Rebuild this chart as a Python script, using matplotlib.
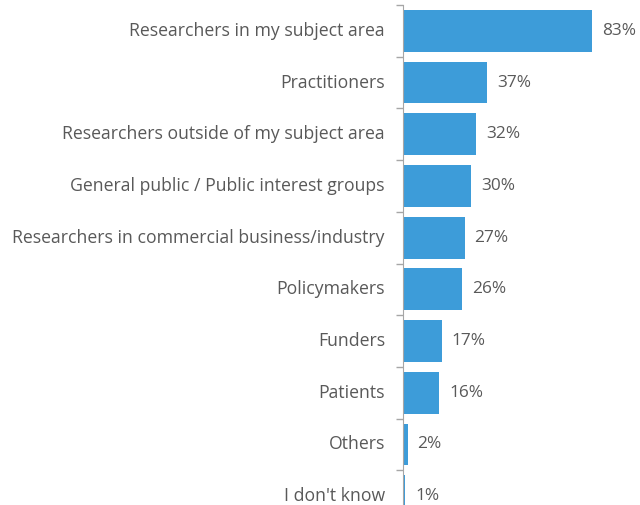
import numpy as np
import matplotlib.pyplot as plt
from matplotlib.transforms import ScaledTranslation

categories = ["Researchers in my subject area", "Practitioners",
              "Researchers outside of my subject area",
              "General public / Public interest groups",
              "Researchers in commercial business/industry",
              "Policymakers", "Funders", "Patients", "Others", "I don't know"]
values = [83, 37, 32, 30, 27, 26, 17, 16, 2, 1]

plt.rcParams['font.family'] = ['Open Sans', 'DejaVu Sans']

fig = plt.figure(figsize=(6.4, 5.05), dpi=100)
ax = fig.add_axes([403/640, 1 - 522/505, 228/640, 517/505])

y = np.arange(len(categories))
bars = ax.barh(y, values, height=0.81, color='#3d9cd9')
ax.set_ylim(len(categories) - 0.5, -0.5)
ax.set_xlim(0, 100)

for yi, v in zip(y, values):
    ax.text(v + 4.4, yi, f"{v}%", va='center', ha='left', fontsize=12.4, color='#595959')

ax.set_yticks(y)
ax.set_yticklabels(categories, fontsize=12.7, color='#595959')
ax.tick_params(axis='y', which='major', length=0, pad=13)
ax.set_yticks(np.arange(-0.5, len(categories), 1), minor=True)
ax.tick_params(axis='y', which='minor', length=5, color='#a6a6a6', width=1)
ax.set_xticks([])
for s in ['top', 'right', 'bottom']:
    ax.spines[s].set_visible(False)
ax.spines['left'].set_color('#a6a6a6')

# nudge category labels up a little
shift = ScaledTranslation(0, 2/100, fig.dpi_scale_trans)
for lab in ax.get_yticklabels():
    lab.set_transform(lab.get_transform() + shift)

fig.savefig("out.png", dpi=100)
